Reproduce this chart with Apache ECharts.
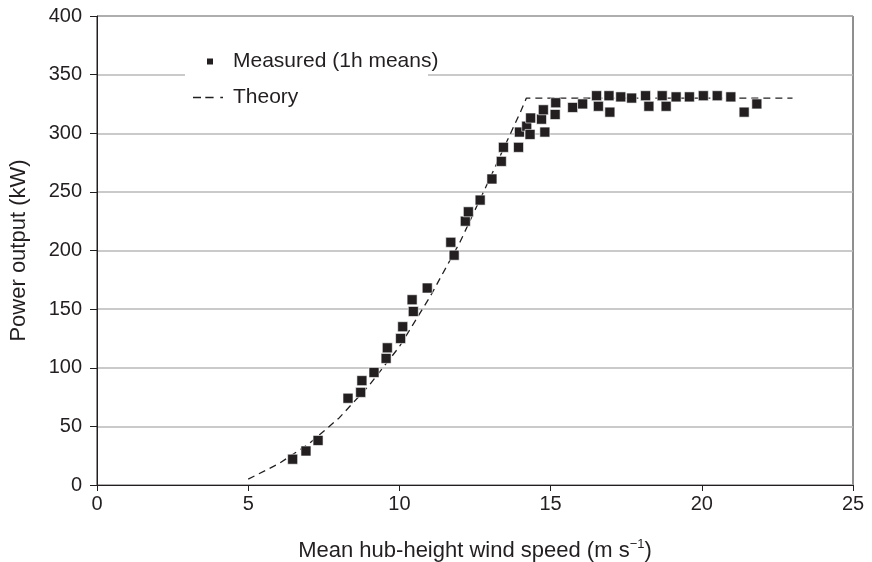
<!DOCTYPE html>
<html><head><meta charset="utf-8">
<script src="https://cdn.jsdelivr.net/npm/echarts@6/dist/echarts.min.js"></script>
<style>html,body{margin:0;padding:0;background:#fff}#c{width:872px;height:562px}</style>
</head><body><div id="c"></div>
<script>
// Measured 1h means: wind speed (m/s), power (kW)
var measuredSpeed = [6.47,6.91,7.31,8.30,8.72,8.76,9.16,9.56,9.60,10.04,10.11,10.46,10.42,10.92,11.70,11.81,12.18,12.28,12.67,13.06,13.37,13.44,13.94,13.97,14.21,14.32,14.34,14.70,14.76,14.81,15.15,15.17,15.73,16.06,16.52,16.58,16.93,16.96,17.32,17.68,18.14,18.25,18.69,18.82,19.15,19.59,20.05,20.51,20.96,21.40,21.82];
var measuredPower = [22,29,38,74,79,89,96,108,117,125,135,148,158,168,207,196,225,233,243,261,276,288,288,301,306,299,313,312,320,301,316,326,322,325,332,323,332,318,331,330,332,323,332,323,331,331,332,332,331,318,325];
// Theory curve
var theorySpeed = [5,6,7,8,9,10,11,12,13,14,14.2,23];
var theoryPower = [5,18,35,57,85,118,160,207,262,318,330,330];
var xTicks = [0,5,10,15,20,25];
var yTicks = [0,50,100,150,200,250,300,350,400];

var font = '"Liberation Sans", Arial, sans-serif';
var ink = '#231f20';
var chart = echarts.init(document.getElementById('c'), null, {renderer:'canvas'});
function zip(a,b){return a.map(function(v,i){return [v,b[i]];});}
chart.setOption({
  animation:false,
  backgroundColor:'#fff',
  grid:{left:97,right:19,top:16,bottom:77,show:true,borderColor:ink,borderWidth:1,backgroundColor:'transparent',
        containLabel:false,outerBoundsMode:'none'},
  xAxis:{type:'value',min:xTicks[0],max:xTicks[xTicks.length-1],interval:5,
    axisLine:{show:true,onZero:false,lineStyle:{color:ink,width:1}},
    axisTick:{show:true,inside:false,length:6,lineStyle:{color:ink}},
    axisLabel:{color:ink,fontFamily:font,fontSize:20,margin:9},
    splitLine:{show:false},
    name:'Mean hub-height wind speed (m s{sup|−1})',nameLocation:'middle',nameGap:53,
    nameTextStyle:{color:ink,fontFamily:font,fontSize:22,
      rich:{sup:{fontSize:13,fontFamily:font,color:ink,verticalAlign:'top',padding:[0,0,12,0]}}}
  },
  yAxis:{type:'value',min:yTicks[0],max:yTicks[yTicks.length-1],interval:50,
    axisLine:{show:true,onZero:false,lineStyle:{color:ink,width:1}},
    axisTick:{show:true,inside:false,length:7,lineStyle:{color:ink}},
    axisLabel:{color:ink,fontFamily:font,fontSize:20,margin:15},
    splitLine:{show:true,lineStyle:{color:'#b8b8b8',width:1.5}},
    name:'Power output (kW)',nameLocation:'middle',nameGap:67,
    nameTextStyle:{color:ink,fontFamily:font,fontSize:22}
  },
  graphic:[{type:'rect',shape:{x:185,y:46,width:243,height:66},style:{fill:'#fff'},z:3}],
  legend:[
    {data:['Measured (1h means)'],left:200,top:46,itemWidth:8,itemHeight:8,icon:'rect',
     itemStyle:{color:ink},
     textStyle:{color:ink,fontFamily:font,fontSize:21,padding:[0,0,0,14]},z:5},
    {data:[{name:'Theory',icon:'path://M0,0H8V1.5H0Z M12.3,0H20.6V1.5H12.3Z M27.3,0H30V1.5H27.3Z'}],
     left:188,top:82,itemWidth:30,itemHeight:1.5,symbolKeepAspect:false,
     itemStyle:{color:ink},
     textStyle:{color:ink,fontFamily:font,fontSize:21,padding:[0,0,0,5]},z:5}
  ],
  series:[
    {name:'Theory',type:'line',data:zip(theorySpeed,theoryPower),showSymbol:false,symbol:'none',
     lineStyle:{color:ink,width:1.3,type:[7,5]},itemStyle:{color:ink},z:2},
    {name:'Measured (1h means)',type:'scatter',data:zip(measuredSpeed,measuredPower),symbol:'rect',symbolSize:10,
     itemStyle:{color:ink,opacity:1,borderColor:'#fff',borderWidth:0.6},z:3}
  ]
});
</script></body></html>
